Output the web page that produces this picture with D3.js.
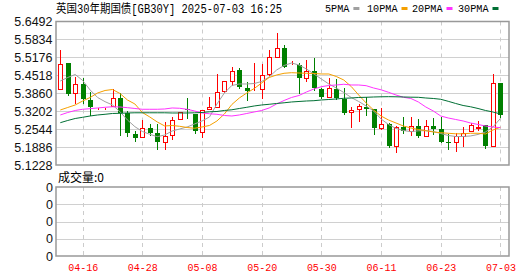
<!DOCTYPE html>
<html>
<head>
<meta charset="utf-8">
<script src="https://cdn.jsdelivr.net/npm/d3@7/dist/d3.min.js"></script>
<style>
body { margin: 0; background: #fff; }
svg { display: block; }
</style>
</head>
<body>
<div id="canvas"><svg width="530" height="276"></svg></div>
<script>
// trading days shown (MM-DD)
var dates = ["04-11","04-14","04-15","04-16","04-17","04-18","04-21","04-22","04-23","04-24",
  "04-25","04-28","04-29","04-30","05-01","05-02","05-05","05-06","05-07","05-08",
  "05-09","05-12","05-13","05-14","05-15","05-16","05-19","05-20","05-21","05-22",
  "05-23","05-26","05-27","05-28","05-29","05-30","06-02","06-03","06-04","06-05",
  "06-06","06-09","06-10","06-11","06-12","06-13","06-16","06-17","06-18","06-19",
  "06-20","06-23","06-24","06-25","06-26","06-27","06-30","07-01","07-02","07-03"];

var open = [5.4027,5.4959,5.3858,5.4200,5.3613,5.3310,5.3305,5.3393,5.3675,5.3125,
  5.2365,5.2266,5.2574,5.2413,5.2061,5.2329,5.2905,5.3265,5.3099,5.2450,
  5.3272,5.3367,5.3943,5.4320,5.4713,5.4042,5.3980,5.4016,5.4566,5.5201,
  5.5509,5.4955,5.4896,5.4431,5.4676,5.4029,5.3734,5.4029,5.3638,5.3161,
  5.3272,5.3367,5.3282,5.2574,5.2721,5.1925,5.2633,5.2487,5.2659,5.2310,
  5.2659,5.2549,5.2065,5.2061,5.2303,5.2487,5.2600,5.2696,5.1937,5.4247];
var high = [5.5447,5.4959,5.4467,5.4409,5.3906,5.3330,5.3330,5.4005,5.3859,5.3209,
  5.2487,5.2879,5.2721,5.2721,5.2817,5.3000,5.3175,5.3675,5.3110,5.3260,
  5.3712,5.4555,5.4320,5.4834,5.4775,5.4284,5.4959,5.4933,5.5447,5.6081,
  5.5648,5.5054,5.4959,5.5080,5.5153,5.4050,5.4409,5.4383,5.4042,5.3367,
  5.3484,5.3712,5.3300,5.3319,5.2770,5.2660,5.2989,5.2971,5.2916,5.2879,
  5.2963,5.2977,5.2355,5.2414,5.2611,5.2780,5.2842,5.2700,5.4566,5.4250];
var low = [5.4027,5.3808,5.3492,5.3514,5.3062,5.3300,5.3300,5.3380,5.2318,5.2292,
  5.2120,5.2244,5.2329,5.1804,5.1804,5.2199,5.2900,5.2941,5.2414,5.2266,
  5.3272,5.3360,5.3920,5.4163,5.4050,5.3613,5.3970,5.3668,5.4540,5.5190,
  5.4820,5.4950,5.3881,5.4299,5.3980,5.3700,5.3720,5.3650,5.3099,5.2633,
  5.2853,5.3062,5.2365,5.2560,5.1870,5.1687,5.2402,5.2329,5.2244,5.2300,
  5.2355,5.2061,5.1804,5.1753,5.1925,5.2480,5.2510,5.1841,5.1930,5.3000];
var close = [5.4922,5.3833,5.4200,5.3638,5.3345,5.3320,5.3320,5.3675,5.3147,5.2391,
  5.2208,5.2574,5.2413,5.2083,5.2292,5.2879,5.3161,5.3235,5.2487,5.3246,
  5.3345,5.3895,5.4310,5.4687,5.4089,5.3954,5.3990,5.4530,5.5179,5.5509,
  5.4834,5.4965,5.4420,5.4676,5.4042,5.3723,5.4042,5.3686,5.3147,5.3246,
  5.3393,5.3282,5.2574,5.2721,5.1925,5.2633,5.2487,5.2659,5.2292,5.2659,
  5.2537,5.2083,5.2055,5.2292,5.2414,5.2696,5.2620,5.1937,5.4225,5.3062];

// moving averages
var ma5 = [5.4310,5.4438,5.4548,5.4328,5.3980,5.3705,5.3551,5.3430,5.3184,5.2879,
  5.2634,5.2458,5.2355,5.2267,5.2329,5.2476,5.2549,5.2623,5.2733,5.2843,
  5.2989,5.3466,5.3870,5.4145,5.4200,5.4200,5.4218,5.4292,5.4457,5.4713,
  5.4878,5.4970,5.4897,5.4750,5.4567,5.4383,5.4200,5.4053,5.3888,5.3705,
  5.3558,5.3393,5.3210,5.2916,5.2714,5.2568,5.2494,5.2450,5.2483,5.2487,
  5.2458,5.2384,5.2311,5.2274,5.2274,5.2293,5.2348,5.2439,5.2623,5.2934];
var ma10 = [5.3246,5.3338,5.3430,5.3576,5.3705,5.3870,5.3961,5.3998,5.3851,5.3613,
  5.3466,5.3154,5.2989,5.2806,5.2659,5.2678,5.2648,5.2604,5.2575,5.2623,
  5.2678,5.2843,5.3099,5.3448,5.3686,5.3870,5.4035,5.4237,5.4438,5.4530,
  5.4592,5.4614,5.4603,5.4592,5.4585,5.4567,5.4567,5.4475,5.4347,5.4108,
  5.3796,5.3503,5.3246,5.3026,5.2879,5.2769,5.2659,5.2586,5.2531,5.2487,
  5.2439,5.2414,5.2392,5.2373,5.2373,5.2392,5.2392,5.2366,5.2513,5.2612];
var ma20 = [5.3063,5.3154,5.3228,5.3272,5.3294,5.3320,5.3345,5.3364,5.3356,5.3331,
  5.3301,5.3272,5.3272,5.3272,5.3283,5.3320,5.3309,5.3272,5.3210,5.3136,
  5.3107,5.3088,5.3044,5.3026,5.3063,5.3118,5.3173,5.3228,5.3320,5.3466,
  5.3595,5.3705,5.3778,5.3906,5.4016,5.4101,5.4145,5.4163,5.4189,5.4163,
  5.4163,5.4138,5.4053,5.3987,5.3895,5.3796,5.3712,5.3668,5.3540,5.3356,
  5.3210,5.3026,5.2953,5.2898,5.2843,5.2769,5.2714,5.2659,5.2623,5.2597];
var ma30 = [5.2780,5.2861,5.2934,5.2978,5.3026,5.3063,5.3088,5.3118,5.3125,5.3136,
  5.3143,5.3143,5.3143,5.3143,5.3143,5.3136,5.3136,5.3136,5.3143,5.3154,
  5.3180,5.3191,5.3228,5.3254,5.3301,5.3345,5.3393,5.3430,5.3455,5.3485,
  5.3510,5.3540,5.3558,5.3576,5.3587,5.3613,5.3631,5.3650,5.3675,5.3686,
  5.3705,5.3712,5.3723,5.3730,5.3734,5.3730,5.3723,5.3716,5.3712,5.3686,
  5.3668,5.3639,5.3565,5.3485,5.3411,5.3364,5.3301,5.3228,5.3173,5.3099];

var yTicks = [5.6492,5.5834,5.5176,5.4518,5.3860,5.3202,5.2544,5.1886,5.1228];
var dateTicks = ["04-16","04-28","05-08","05-20","05-30","06-11","06-23","07-03"];
var volTicks = ["0","0","0","0","0"];

var maNames = ["5PMA","10PMA","20PMA","30PMA"];
var maColors = ["#a0a0a0","#f5a000","#ff33ff","#006f34"];

var svg = d3.select("#canvas svg");
var left = 56, right = 509;
var top1 = 21.5, bot1 = 165;
var top2 = 187, bot2 = 256;

var x = d3.scalePoint().domain(dates).range([60.3, 500.4]);
var y = d3.scaleLinear().domain([5.1228, 5.6492]).range([bot1, top1]);
var yv = d3.scaleLinear().domain([0, volTicks.length - 1]).range([top2, bot2]);

var monoCJK = "'Liberation Mono','Noto Sans CJK SC',monospace";

// title + legend
svg.append("text")
  .attr("x", left).attr("y", 12.5)
  .attr("font-family", monoCJK).attr("font-size", 12)
  .attr("textLength", 226).attr("lengthAdjust", "spacingAndGlyphs")
  .attr("fill", "#000")
  .text("英国30年期国债[GB30Y] 2025-07-03 16:25");

var legX = [325, 367, 412, 458];
var legend = svg.selectAll(".leg").data(maNames).enter().append("g").attr("class", "leg")
  .attr("transform", function (d, i) { return "translate(" + legX[i] + ",0)"; });
legend.append("text")
  .attr("y", 12)
  .attr("font-family", monoCJK).attr("font-size", 10)
  .attr("textLength", function (d) { return d.length * 6.1; })
  .attr("lengthAdjust", "spacingAndGlyphs")
  .attr("fill", "#000")
  .text(function (d) { return d; });
legend.append("rect")
  .attr("x", function (d) { return d.length * 6.1 + 4; })
  .attr("y", 7).attr("width", 6).attr("height", 3)
  .attr("fill", function (d, i) { return maColors[i]; });

// grid - main panel
svg.append("g").selectAll("line").data(yTicks.slice(1, -1)).enter().append("line")
  .attr("x1", left).attr("x2", right)
  .attr("y1", function (d) { return Math.round(y(d)) + 0.5; })
  .attr("y2", function (d) { return Math.round(y(d)) + 0.5; })
  .attr("stroke", "#d0d0d0");

// grid - volume panel
svg.append("g").selectAll("line").data(d3.range(1, volTicks.length - 1)).enter().append("line")
  .attr("x1", left).attr("x2", right)
  .attr("y1", function (d) { return Math.round(yv(d)) + 0.5; })
  .attr("y2", function (d) { return Math.round(yv(d)) + 0.5; })
  .attr("stroke", "#d0d0d0");

// dashed verticals at date labels, both panels
[[top1, bot1], [top2, bot2]].forEach(function (p) {
  svg.append("g").selectAll("line").data(dateTicks).enter().append("line")
    .attr("x1", function (d) { return Math.round(x(d)) + 0.5; })
    .attr("x2", function (d) { return Math.round(x(d)) + 0.5; })
    .attr("y1", p[0]).attr("y2", p[1])
    .attr("stroke", "#cccccc").attr("stroke-dasharray", "4,4");
});

// candles
var candles = svg.append("g").selectAll("g").data(dates).enter().append("g");
candles.each(function (d, i) {
  var g = d3.select(this);
  var cx = Math.round(x(d));
  var up = close[i] >= open[i];
  var col = up ? "#ff0000" : "#008000";
  var yTop = Math.round(y(Math.max(open[i], close[i])));
  var yBot = Math.round(y(Math.min(open[i], close[i])));
  g.append("line")
    .attr("x1", cx + 0.5).attr("x2", cx + 0.5)
    .attr("y1", Math.round(y(high[i]))).attr("y2", Math.round(y(low[i])) + 1)
    .attr("stroke", col);
  if (up) {
    g.append("rect")
      .attr("x", cx - 1.5).attr("width", 4)
      .attr("y", yTop + 0.5).attr("height", Math.max(0, yBot - yTop))
      .attr("fill", "#fff").attr("stroke", col);
  } else {
    g.append("rect")
      .attr("x", cx - 2).attr("width", 5)
      .attr("y", yTop).attr("height", Math.max(1, yBot - yTop))
      .attr("fill", col);
  }
});

// moving average lines
var line = d3.line()
  .x(function (d, i) { return x(dates[i]); })
  .y(function (d) { return y(d); });
[ma5, ma10, ma20, ma30].forEach(function (s, k) {
  svg.append("path").datum(s)
    .attr("d", line)
    .attr("fill", "none")
    .attr("stroke", maColors[k])
    .attr("stroke-width", 1);
});

// frames
[[top1, bot1], [top2, bot2]].forEach(function (p) {
  svg.append("rect")
    .attr("x", left).attr("y", p[0])
    .attr("width", right - left).attr("height", p[1] - p[0])
    .attr("fill", "none").attr("stroke", "#999").attr("stroke-width", 1.5);
});

// y axis labels
svg.append("g").selectAll("text").data(yTicks).enter().append("text")
  .attr("x", 52.5).attr("y", function (d) { return y(d); })
  .attr("dy", "0.36em")
  .attr("text-anchor", "end")
  .attr("font-family", "'Liberation Sans',Arial,sans-serif").attr("font-size", 12.5)
  .attr("fill", "#111")
  .text(function (d) { return d.toFixed(4); });

svg.append("text")
  .attr("x", 58).attr("y", 182)
  .attr("font-family", "'Noto Sans CJK SC',sans-serif").attr("font-size", 12)
  .attr("fill", "#000")
  .text("成交量:0");

svg.append("g").selectAll("text").data(volTicks).enter().append("text")
  .attr("x", 53).attr("y", function (d, i) { return yv(i); })
  .attr("dy", "0.36em")
  .attr("text-anchor", "end")
  .attr("font-family", "'Liberation Sans',Arial,sans-serif").attr("font-size", 12.5)
  .attr("fill", "#111")
  .text(function (d) { return d; });

// date labels
svg.append("g").selectAll("text").data(dateTicks).enter().append("text")
  .attr("x", function (d) { return x(d) + 0.5; }).attr("y", 271)
  .attr("text-anchor", "middle")
  .attr("font-family", monoCJK).attr("font-size", 11)
  .attr("textLength", 30).attr("lengthAdjust", "spacingAndGlyphs")
  .attr("fill", "#ff0000")
  .text(function (d) { return d; });
</script>
</body>
</html>
